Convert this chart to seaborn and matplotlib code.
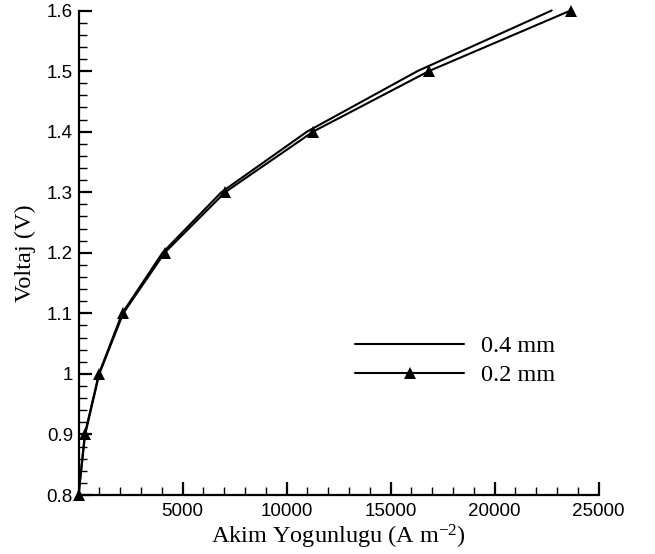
import matplotlib
matplotlib.use("Agg")
import matplotlib.pyplot as plt
import seaborn as sns
import pandas as pd
from matplotlib.ticker import MultipleLocator, FixedLocator, FuncFormatter
from matplotlib.lines import Line2D

# Data
voltage = [0.8, 0.9, 1.0, 1.1, 1.2, 1.3, 1.4, 1.5, 1.6]
current_04mm = [0, 300, 980, 2100, 4040, 6870, 10990, 16300, 22750]
current_02mm = [0, 320, 1000, 2150, 4140, 7050, 11280, 16850, 23660]
series_labels = ["0.4 mm", "0.2 mm"]
x_ticks = [5000, 10000, 15000, 20000, 25000]
y_ticks = [0.8, 0.9, 1.0, 1.1, 1.2, 1.3, 1.4, 1.5, 1.6]

sns.set_style("ticks")
plt.rcParams["font.family"] = ["Liberation Sans", "DejaVu Sans"]
plt.rcParams["mathtext.fontset"] = "custom"
plt.rcParams["mathtext.rm"] = "Liberation Serif"
plt.rcParams["mathtext.it"] = "Liberation Serif"
plt.rcParams["text.color"] = "black"
plt.rcParams["axes.labelcolor"] = "black"

fig = plt.figure(figsize=(6.55, 5.54), dpi=100)
ax = fig.add_axes([78.5 / 655, 1 - 495 / 554, (598.5 - 78.5) / 655, (495 - 10.5) / 554])

df04 = pd.DataFrame({"I": current_04mm, "V": voltage})
df02 = pd.DataFrame({"I": current_02mm, "V": voltage})

sns.lineplot(data=df04, x="I", y="V", ax=ax, color="black", lw=1.5,
             sort=False, estimator=None, clip_on=False)
sns.lineplot(data=df02, x="I", y="V", ax=ax, color="black", lw=1.5,
             marker="^", markersize=8.5, markeredgewidth=0,
             sort=False, estimator=None, clip_on=False)

ax.set_xlim(0, 25000)
ax.set_ylim(0.8, 1.6)

ax.xaxis.set_major_locator(FixedLocator(x_ticks))
ax.xaxis.set_minor_locator(MultipleLocator(1000))
ax.yaxis.set_major_locator(FixedLocator(y_ticks))
ax.yaxis.set_minor_locator(MultipleLocator(0.02))
ax.yaxis.set_major_formatter(FuncFormatter(lambda v, p: f"{v:g}"))
ax.xaxis.set_major_formatter(FuncFormatter(lambda v, p: f"{int(v)}"))

sns.despine(ax=ax)
for s in ["left", "bottom"]:
    ax.spines[s].set_linewidth(1.6)
    ax.spines[s].set_color("black")

ax.tick_params(axis="both", which="major", direction="in", length=9.5, width=1.6,
               labelsize=13.5, colors="black")
ax.tick_params(axis="both", which="minor", direction="in", length=5.5, width=1.0,
               colors="black")
ax.tick_params(axis="x", which="major", pad=6)
ax.tick_params(axis="y", which="major", pad=4)

serif = {"family": ["Liberation Serif", "DejaVu Serif"], "size": 17.5, "color": "black"}
ax.set_xlabel("Akim Yogunlugu (A m$^{\\mathregular{-2}}$)", fontdict=serif, labelpad=2)
ax.set_ylabel("Voltaj (V)", fontdict=serif, labelpad=8)

handles = [Line2D([], [], color="black", lw=1.5),
           Line2D([], [], color="black", lw=1.5, marker="^", markersize=8.5,
                  markeredgewidth=0)]
leg = ax.legend(handles, series_labels, loc="upper left",
                bbox_to_anchor=(355 / 655, 1 - 335 / 554), bbox_transform=fig.transFigure,
                frameon=False, handlelength=4.5, borderpad=0, borderaxespad=0,
                handletextpad=0.7, labelspacing=0.3,
                prop={"family": ["Liberation Serif", "DejaVu Serif"], "size": 17.5})
for t in leg.get_texts():
    t.set_color("black")

fig.savefig("out.png", dpi=100)
